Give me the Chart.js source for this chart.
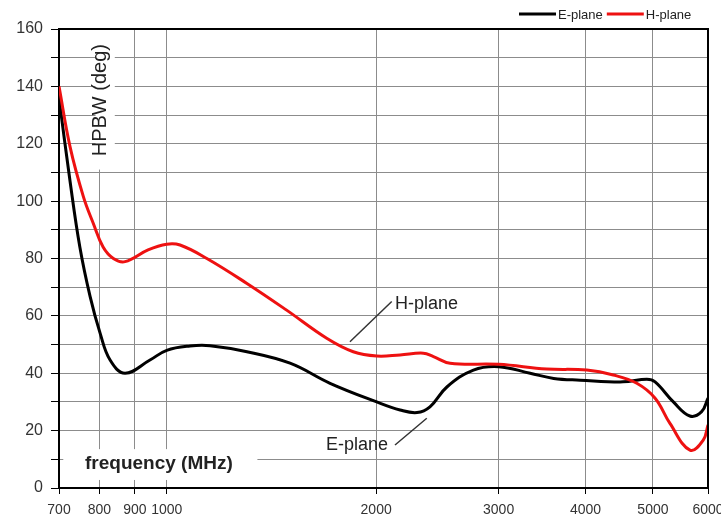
<!DOCTYPE html>
<html>
<head>
<meta charset="utf-8">
<script src="https://cdn.jsdelivr.net/npm/chart.js@4.4.0/dist/chart.umd.min.js"></script>
<style>
  html, body { margin: 0; padding: 0; background: #fff; }
  #wrap { width: 721px; height: 518px; }
</style>
</head>
<body>
<div id="wrap"><canvas id="hpbwChart" width="721" height="518"></canvas></div>
<script>
// HPBW (deg) against frequency (MHz)
const freqE = [700, 726, 750, 776, 802, 829, 871, 946, 1000, 1080, 1154, 1304, 1504, 1717, 2004, 2165, 2290, 2390, 2530, 2760, 3000, 3330, 3600, 3930, 4530, 4900, 5036, 5350, 5650, 5875, 6000];
const hpbwE = [136, 107, 84, 66.7, 54, 44.6, 40, 44.6, 48, 49.5, 49.6, 47.5, 43.5, 36.5, 30, 27.2, 26.3, 28.3, 35.3, 41.1, 42.3, 40, 38.2, 37.6, 37, 37.9, 37, 30, 25.1, 26.6, 31.3];

const freqH = [700, 726, 759, 784, 810, 838, 871, 940, 1000, 1045, 1142, 1304, 1487, 1698, 1854, 2004, 2165, 2338, 2418, 2555, 3000, 3518, 4017, 4386, 4740, 5036, 5290, 5652, 5906, 6000];
const hpbwH = [140, 119, 101.5, 92.3, 84, 80, 78.9, 83, 85, 84.7, 80, 71.3, 62, 52.2, 47.5, 46, 46.4, 47, 45.8, 43.5, 43.1, 41.5, 41.1, 39.4, 36.5, 31.3, 22.5, 13.2, 16.7, 22];

const xTicks = [700, 800, 900, 1000, 2000, 3000, 4000, 5000, 6000];

const FONT = '"Liberation Sans", Arial, sans-serif';
const RED = '#ee1111';
const TEXT = '#222';

function toPoints(xs, ys) {
    return xs.map((x, i) => ({ x: x, y: ys[i] }));
}

// axis titles, callouts, legend and the outer frame
const decorPlugin = {
    id: 'decor',
    beforeDatasetsDraw(chart) {
        const ctx = chart.ctx, sx = chart.scales.x, sy = chart.scales.y;
        ctx.save();
        ctx.fillStyle = '#fff';
        // white patches behind the two axis titles
        [[790, 842, 111, 160], [710, 1350, 2.8, 13.9]].forEach(b => {
            const l = sx.getPixelForValue(b[0]), r = sx.getPixelForValue(b[1]);
            const t = sy.getPixelForValue(b[3]) + 1, bt = sy.getPixelForValue(b[2]);
            ctx.fillRect(l, t, r - l, bt - t);
        });
        ctx.restore();
    },
    afterDraw(chart) {
        const ctx = chart.ctx, sx = chart.scales.x, sy = chart.scales.y;
        const a = chart.chartArea;
        ctx.save();

        // top and right frame
        ctx.strokeStyle = '#000';
        ctx.lineWidth = 2;
        ctx.beginPath();
        ctx.moveTo(a.left, a.top);
        ctx.lineTo(a.right, a.top);
        ctx.lineTo(a.right, a.bottom);
        ctx.stroke();

        ctx.fillStyle = TEXT;

        // y title
        ctx.save();
        ctx.translate(sx.getPixelForValue(804), sy.getPixelForValue(135.2));
        ctx.rotate(-Math.PI / 2);
        ctx.font = '20px ' + FONT;
        ctx.textAlign = 'center';
        ctx.textBaseline = 'middle';
        ctx.fillText('HPBW (deg)', 0, 0);
        ctx.restore();

        // x title
        ctx.font = 'bold 19px ' + FONT;
        ctx.textAlign = 'left';
        ctx.textBaseline = 'middle';
        ctx.fillText('frequency (MHz)', sx.getPixelForValue(763), sy.getPixelForValue(8.4));

        // callouts
        ctx.font = '18px ' + FONT;
        ctx.fillText('H-plane', sx.getPixelForValue(2129), sy.getPixelForValue(64.1));
        ctx.textAlign = 'right';
        ctx.fillText('E-plane', sx.getPixelForValue(2080), sy.getPixelForValue(15));

        ctx.strokeStyle = '#333';
        ctx.lineWidth = 1.5;
        [[1834, 51, 2106, 65], [2129, 15, 2365, 24.3]].forEach(l => {
            ctx.beginPath();
            ctx.moveTo(sx.getPixelForValue(l[0]), sy.getPixelForValue(l[1]));
            ctx.lineTo(sx.getPixelForValue(l[2]), sy.getPixelForValue(l[3]));
            ctx.stroke();
        });

        // legend
        ctx.font = '13px ' + FONT;
        ctx.textAlign = 'left';
        ctx.textBaseline = 'middle';
        let lx = 519;
        const ly = 14;
        chart.data.datasets.forEach(ds => {
            ctx.strokeStyle = ds.borderColor;
            ctx.lineWidth = 3;
            ctx.beginPath();
            ctx.moveTo(lx, ly);
            ctx.lineTo(lx + 37, ly);
            ctx.stroke();
            ctx.fillStyle = TEXT;
            ctx.fillText(ds.label, lx + 39, ly + 1);
            lx += 39 + ctx.measureText(ds.label).width + 4;
        });

        ctx.restore();
    }
};

new Chart(document.getElementById('hpbwChart').getContext('2d'), {
    type: 'line',
    data: {
        datasets: [
            {
                label: 'E-plane',
                data: toPoints(freqE, hpbwE),
                borderColor: '#000',
                borderWidth: 3,
                pointRadius: 0,
                tension: 0.4,
                order: 1
            },
            {
                label: 'H-plane',
                data: toPoints(freqH, hpbwH),
                borderColor: RED,
                borderWidth: 3,
                pointRadius: 0,
                tension: 0.4,
                order: 0
            }
        ]
    },
    options: {
        responsive: false,
        animation: false,
        devicePixelRatio: 1,
        layout: { padding: { top: 29, right: 13, left: 0, bottom: 0 } },
        plugins: {
            legend: { display: false },
            tooltip: { enabled: false }
        },
        scales: {
            x: {
                type: 'logarithmic',
                min: 700,
                max: 6000,
                afterBuildTicks: scale => {
                    scale.ticks = xTicks.map(v => ({ value: v }));
                },
                afterFit: scale => {
                    scale.height = 30;
                    scale.paddingLeft = 0;
                    scale.paddingRight = 0;
                },
                ticks: {
                    autoSkip: false,
                    maxRotation: 0,
                    padding: 8,
                    color: '#333',
                    font: { family: FONT, size: 14 },
                    callback: v => String(v)
                },
                grid: { color: '#8c8c8c', lineWidth: 1, tickLength: 6, tickColor: '#000' },
                border: { color: '#000', width: 2 }
            },
            y: {
                min: 0,
                max: 160,
                afterFit: scale => {
                    scale.width = 59;
                    scale.paddingTop = 0;
                    scale.paddingBottom = 0;
                },
                ticks: {
                    stepSize: 10,
                    padding: 8,
                    color: '#333',
                    font: { family: FONT, size: 16 },
                    callback: v => (v % 20 === 0 ? v : '')
                },
                grid: { color: '#8c8c8c', lineWidth: 1, tickLength: 8, tickColor: '#000' },
                border: { color: '#000', width: 2 }
            }
        }
    },
    plugins: [decorPlugin]
});
</script>
</body>
</html>
